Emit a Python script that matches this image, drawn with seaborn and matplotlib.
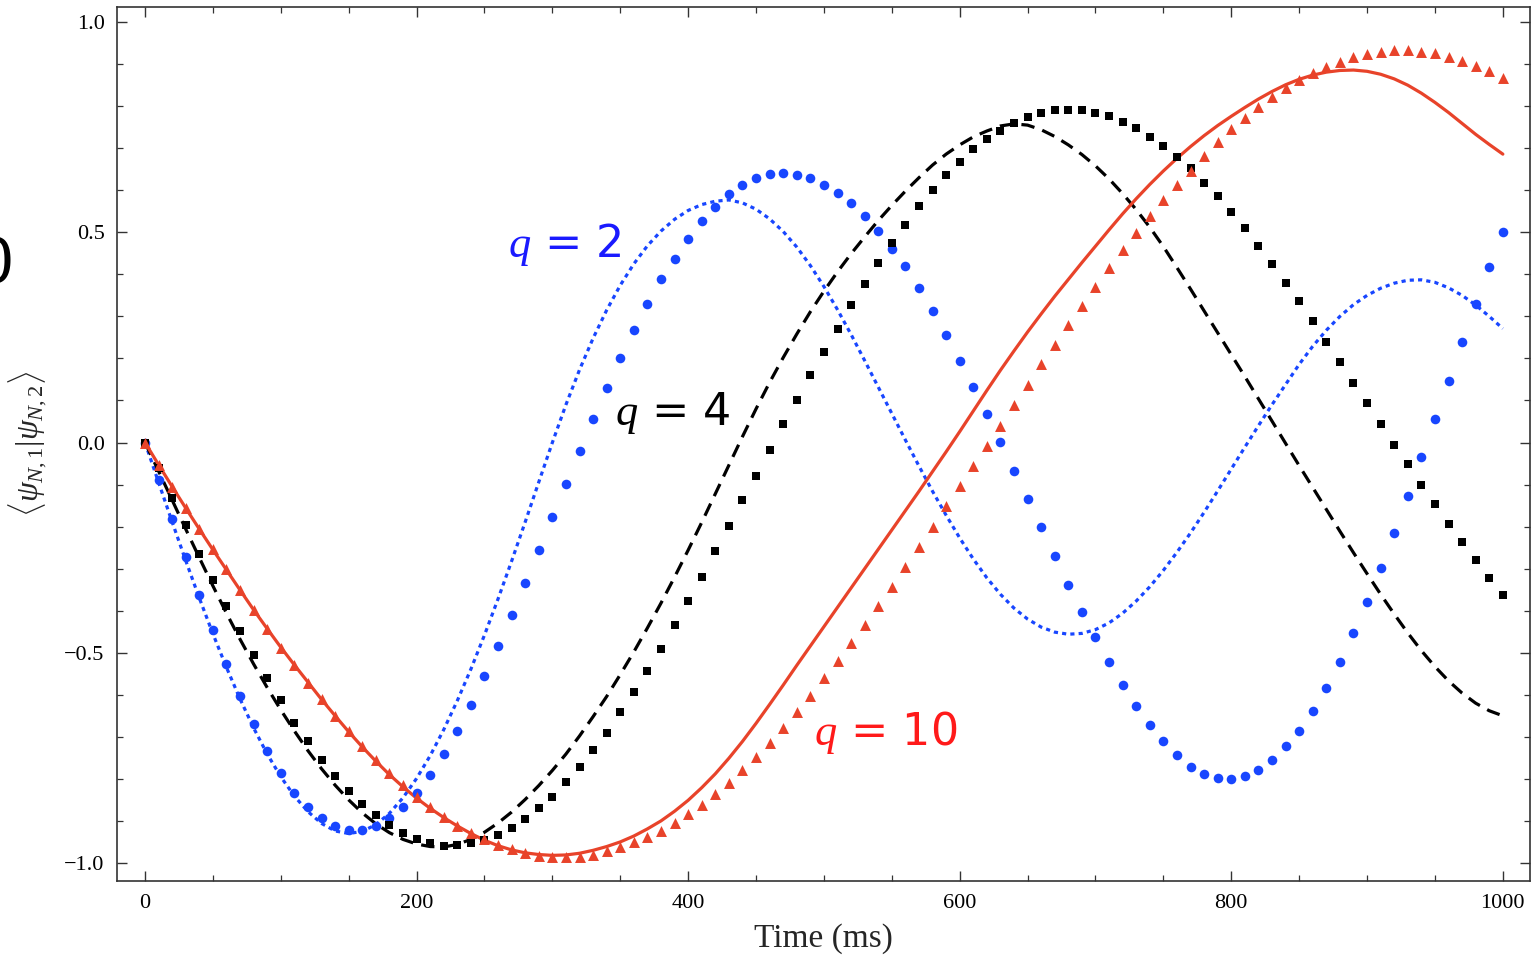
import numpy as np
import pandas as pd
import matplotlib
matplotlib.use('Agg')
import matplotlib.pyplot as plt
from matplotlib.ticker import MultipleLocator, FuncFormatter
import seaborn as sns

# time grid (ms), one point every 10 ms
time_ms = list(range(0, 1001, 10))

# q = 2 : theory (dotted line) and data (dots)
q2_line = [0.000, -0.095, -0.189, -0.281, -0.370, -0.455, -0.535, -0.610, -0.679, -0.741,
           -0.795, -0.841, -0.878, -0.906, -0.924, -0.930, -0.925, -0.909, -0.882, -0.845,
           -0.799, -0.745, -0.683, -0.614, -0.539, -0.458, -0.372, -0.282, -0.189, -0.094,
           0.000, 0.090, 0.173, 0.248, 0.315, 0.374, 0.425, 0.468, 0.503, 0.531,
           0.552, 0.566, 0.574, 0.577, 0.570, 0.555, 0.532, 0.502, 0.465, 0.421,
           0.371, 0.316, 0.257, 0.195, 0.132, 0.069, 0.006, -0.056, -0.116, -0.173,
           -0.227, -0.277, -0.322, -0.361, -0.394, -0.420, -0.439, -0.451, -0.456, -0.454,
           -0.445, -0.429, -0.406, -0.377, -0.343, -0.304, -0.261, -0.215, -0.166, -0.115,
           -0.063, -0.011, 0.040, 0.090, 0.138, 0.186, 0.229, 0.267, 0.300, 0.328,
           0.350, 0.367, 0.379, 0.386, 0.387, 0.381, 0.368, 0.350, 0.327, 0.300,
           0.271]
q2_data = [0.000, -0.090, -0.182, -0.273, -0.362, -0.446, -0.527, -0.602, -0.670, -0.733,
           -0.785, -0.833, -0.867, -0.894, -0.912, -0.921, -0.921, -0.912, -0.894, -0.867,
           -0.834, -0.790, -0.740, -0.685, -0.624, -0.556, -0.485, -0.411, -0.333, -0.256,
           -0.176, -0.098, -0.020, 0.056, 0.130, 0.201, 0.268, 0.329, 0.388, 0.437,
           0.485, 0.526, 0.561, 0.590, 0.613, 0.629, 0.638, 0.642, 0.637, 0.629,
           0.613, 0.594, 0.570, 0.538, 0.502, 0.461, 0.421, 0.367, 0.312, 0.256,
           0.195, 0.133, 0.068, 0.001, -0.067, -0.134, -0.202, -0.271, -0.338, -0.403,
           -0.463, -0.523, -0.576, -0.626, -0.673, -0.711, -0.744, -0.771, -0.788, -0.797,
           -0.800, -0.794, -0.779, -0.756, -0.723, -0.685, -0.638, -0.583, -0.521, -0.453,
           -0.379, -0.298, -0.215, -0.126, -0.035, 0.055, 0.147, 0.239, 0.329, 0.418,
           0.501]

# q = 4 : theory (dashed line) and data (squares)
q4_line = [0.000, -0.068, -0.137, -0.206, -0.274, -0.341, -0.406, -0.468, -0.527, -0.583,
           -0.636, -0.686, -0.733, -0.776, -0.815, -0.850, -0.881, -0.907, -0.928, -0.944,
           -0.955, -0.961, -0.962, -0.956, -0.944, -0.927, -0.905, -0.879, -0.849, -0.816,
           -0.780, -0.741, -0.698, -0.652, -0.604, -0.552, -0.498, -0.441, -0.382, -0.320,
           -0.256, -0.190, -0.122, -0.054, 0.014, 0.080, 0.143, 0.202, 0.258, 0.311,
           0.360, 0.406, 0.449, 0.489, 0.528, 0.564, 0.598, 0.630, 0.660, 0.686,
           0.708, 0.727, 0.741, 0.753, 0.758, 0.755, 0.744, 0.728, 0.708, 0.685,
           0.658, 0.627, 0.592, 0.554, 0.512, 0.466, 0.416, 0.365, 0.313, 0.261,
           0.209, 0.157, 0.104, 0.051, -0.002, -0.055, -0.107, -0.159, -0.211, -0.262,
           -0.312, -0.361, -0.408, -0.453, -0.495, -0.533, -0.567, -0.596, -0.620, -0.638,
           -0.650]
q4_data = [0.000, -0.060, -0.132, -0.195, -0.264, -0.326, -0.388, -0.449, -0.505, -0.560,
           -0.613, -0.666, -0.711, -0.755, -0.793, -0.828, -0.860, -0.887, -0.910, -0.928,
           -0.944, -0.953, -0.959, -0.957, -0.953, -0.945, -0.933, -0.917, -0.896, -0.870,
           -0.842, -0.808, -0.772, -0.731, -0.690, -0.642, -0.594, -0.543, -0.490, -0.434,
           -0.376, -0.320, -0.259, -0.199, -0.137, -0.079, -0.017, 0.043, 0.101, 0.160,
           0.215, 0.271, 0.326, 0.378, 0.428, 0.474, 0.518, 0.563, 0.601, 0.636,
           0.667, 0.698, 0.721, 0.742, 0.760, 0.775, 0.783, 0.790, 0.792, 0.790,
           0.785, 0.777, 0.763, 0.747, 0.727, 0.706, 0.680, 0.652, 0.618, 0.586,
           0.548, 0.510, 0.467, 0.424, 0.380, 0.336, 0.289, 0.239, 0.192, 0.142,
           0.094, 0.044, -0.006, -0.052, -0.100, -0.146, -0.194, -0.237, -0.279, -0.322,
           -0.362]

# q = 10 : theory (solid line) and data (triangles)
q10_line = [0.000, -0.053, -0.105, -0.156, -0.206, -0.255, -0.303, -0.351, -0.398, -0.443,
            -0.487, -0.529, -0.570, -0.611, -0.650, -0.688, -0.724, -0.758, -0.790, -0.819,
            -0.846, -0.870, -0.892, -0.912, -0.930, -0.946, -0.959, -0.969, -0.976, -0.980,
            -0.982, -0.981, -0.977, -0.970, -0.961, -0.950, -0.936, -0.919, -0.900, -0.877,
            -0.851, -0.821, -0.788, -0.751, -0.711, -0.668, -0.623, -0.577, -0.530, -0.484,
            -0.438, -0.392, -0.346, -0.300, -0.254, -0.208, -0.162, -0.116, -0.069, -0.022,
            0.026, 0.075, 0.124, 0.172, 0.218, 0.263, 0.306, 0.348, 0.388, 0.428,
            0.467, 0.506, 0.544, 0.580, 0.614, 0.646, 0.676, 0.704, 0.730, 0.754,
            0.776, 0.797, 0.817, 0.835, 0.851, 0.864, 0.874, 0.881, 0.885, 0.886,
            0.883, 0.876, 0.865, 0.850, 0.831, 0.809, 0.785, 0.759, 0.733, 0.709,
            0.686]
q10_data = [0.000, -0.053, -0.105, -0.156, -0.206, -0.254, -0.302, -0.350, -0.398, -0.444,
            -0.488, -0.530, -0.571, -0.610, -0.650, -0.687, -0.721, -0.755, -0.787, -0.814,
            -0.842, -0.867, -0.890, -0.911, -0.929, -0.944, -0.957, -0.968, -0.977, -0.983,
            -0.986, -0.987, -0.985, -0.980, -0.972, -0.961, -0.951, -0.938, -0.923, -0.905,
            -0.884, -0.862, -0.837, -0.809, -0.779, -0.747, -0.714, -0.678, -0.640, -0.602,
            -0.561, -0.519, -0.478, -0.435, -0.390, -0.344, -0.297, -0.249, -0.201, -0.152,
            -0.104, -0.055, -0.008, 0.040, 0.089, 0.138, 0.186, 0.233, 0.279, 0.325,
            0.371, 0.414, 0.457, 0.499, 0.539, 0.576, 0.613, 0.647, 0.682, 0.715,
            0.745, 0.772, 0.797, 0.821, 0.843, 0.863, 0.879, 0.894, 0.906, 0.916,
            0.924, 0.930, 0.933, 0.933, 0.930, 0.926, 0.917, 0.908, 0.896, 0.884,
            0.867]

blue = '#1846ff'
red = '#e8432a'

sns.set_style('ticks')
plt.rcParams['font.family'] = ['Liberation Serif', 'DejaVu Serif']
plt.rcParams['mathtext.fontset'] = 'custom'
plt.rcParams['mathtext.rm'] = 'Liberation Serif'
plt.rcParams['mathtext.it'] = 'Liberation Serif:italic'

fig = plt.figure(figsize=(15.38, 9.57), dpi=100)
ax = fig.add_axes([0.0761, 0.0794, 0.9187, 0.9133])

# theory curves
sns.lineplot(x=time_ms, y=q2_line, ax=ax, color=blue, linewidth=2.3,
             linestyle=(0, (1.3, 1.3)), zorder=2)
sns.lineplot(x=time_ms, y=q4_line, ax=ax, color='black', linewidth=2.3,
             linestyle=(0, (4.2, 2.6)), zorder=2)
sns.lineplot(x=time_ms, y=q10_line, ax=ax, color=red, linewidth=2.3, zorder=2)

# data points
sns.scatterplot(x=time_ms, y=q2_data, ax=ax, color=blue, marker='o', s=48,
                linewidth=0, zorder=3)
sns.scatterplot(x=time_ms, y=q4_data, ax=ax, color='black', marker='s', s=26,
                linewidth=0, zorder=3)
sns.scatterplot(x=time_ms, y=q10_data, ax=ax, color=red, marker='^', s=62,
                linewidth=0, zorder=3)

ax.set_xlim(-20.6, 1020)
ax.set_ylim(-1.043, 1.036)
ax.xaxis.set_major_locator(MultipleLocator(200))
ax.xaxis.set_minor_locator(MultipleLocator(50))
ax.yaxis.set_major_locator(MultipleLocator(0.5))
ax.yaxis.set_minor_locator(MultipleLocator(0.1))
ax.yaxis.set_major_formatter(FuncFormatter(
    lambda v, p: f'{round(v, 1) + 0.0:.1f}'.replace('-', '\u2212')))
ax.tick_params(which='both', direction='in', top=True, right=True, colors='#333333',
               labelcolor='black', labelsize=16)
ax.tick_params(which='major', length=7, width=1.0, pad=9)
ax.tick_params(which='minor', length=4, width=0.9)
for sp in ax.spines.values():
    sp.set_color('#333333')
    sp.set_linewidth(1.2)

ax.set_xlabel('Time (ms)', fontsize=24, labelpad=8)
ax.set_ylabel(r'$\langle\psi_{N,1}|\psi_{N,2}\rangle$', fontsize=23, labelpad=12)

# curve labels
ax.text(267, 0.47, r'$q$ = 2', color='#1a1aff', fontsize=32, family='DejaVu Sans',
        ha='left', va='center')
ax.text(346, 0.07, r'$q$ = 4', color='black', fontsize=32, family='DejaVu Sans',
        ha='left', va='center')
ax.text(493, -0.69, r'$q$ = 10', color='#ff1a1a', fontsize=32, family='DejaVu Sans',
        ha='left', va='center')

# cropped panel mark at the left edge
fig.text(-0.004, 0.722, '0', fontsize=48, family='Liberation Sans', ha='center',
         va='center', color='black')

fig.savefig('out.png', dpi=100)
